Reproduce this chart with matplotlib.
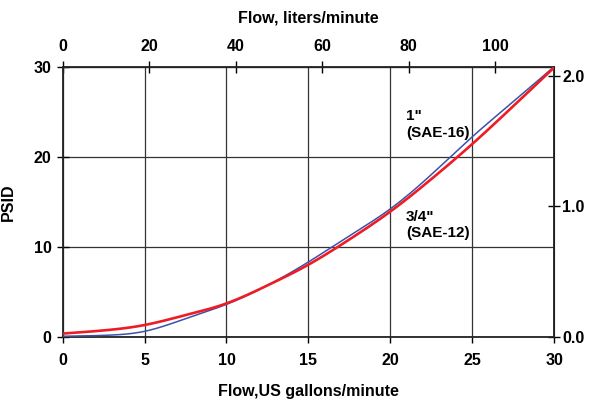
import numpy as np
import matplotlib
matplotlib.use("Agg")
import matplotlib.pyplot as plt

plt.rcParams['font.family'] = ['Liberation Sans', 'DejaVu Sans']
plt.rcParams['font.weight'] = 'bold'

# flow in US gpm, pressure drop in psi
gpm = [0, 2.5, 5, 7.5, 10, 12.5, 15, 17.5, 20, 22.5, 25, 27.5, 30]
psi_1in = [0.05, 0.15, 0.6, 2.0, 3.6, 5.7, 8.3, 11.2, 14.2, 18.0, 22.2, 26.1, 30.0]   # 1" (SAE-16)
psi_34in = [0.35, 0.7, 1.3, 2.4, 3.7, 5.7, 8.0, 10.8, 13.9, 17.5, 21.4, 25.6, 29.9]  # 3/4" (SAE-12)

x_ticks = [0, 5, 10, 15, 20, 25, 30]
y_ticks = [0, 10, 20, 30]
lpm_ticks = [0, 20, 40, 60, 80, 100]
bar_ticks = [0.0, 1.0, 2.0]

GAL_TO_L = 3.785411784
PSI_PER_BAR = 14.5038


def spline(x, y, xs):
    # natural cubic spline so the curves come out smooth
    x = np.asarray(x, float)
    y = np.asarray(y, float)
    n = len(x)
    h = np.diff(x)
    A = np.zeros((n, n))
    r = np.zeros(n)
    A[0, 0] = A[-1, -1] = 1
    for i in range(1, n - 1):
        A[i, i - 1] = h[i - 1]
        A[i, i] = 2 * (h[i - 1] + h[i])
        A[i, i + 1] = h[i]
        r[i] = 6 * ((y[i + 1] - y[i]) / h[i] - (y[i] - y[i - 1]) / h[i - 1])
    m = np.linalg.solve(A, r)
    idx = np.clip(np.searchsorted(x, xs) - 1, 0, n - 2)
    t = xs - x[idx]
    hi = h[idx]
    a = y[idx]
    b = (y[idx + 1] - y[idx]) / hi - hi * (2 * m[idx] + m[idx + 1]) / 6
    return a + b * t + m[idx] / 2 * t ** 2 + (m[idx + 1] - m[idx]) / (6 * hi) * t ** 3


fig = plt.figure(figsize=(5.92, 4.01), dpi=100)
ax = fig.add_axes([0.1059, 0.1603, 0.8300, 0.6734])

xs = np.linspace(0, 30, 300)
ax.plot(xs, spline(gpm, psi_1in, xs), color='#3a52a8', lw=1.1, zorder=3)
ax.plot(xs, spline(gpm, psi_34in, xs), color='#ee1c25', lw=1.9, zorder=4)

ax.set_xlim(0, 30)
ax.set_ylim(0, 30)
ax.set_xticks(x_ticks)
ax.set_yticks(y_ticks)
ax.grid(True, color='#333333', lw=0.9)
for s in ax.spines.values():
    s.set_color('#222222')
    s.set_linewidth(1.3)
ax.tick_params(axis='x', direction='out', length=4, width=1, pad=8, labelsize=11.5)
ax.tick_params(axis='y', direction='inout', length=8, width=1, pad=4, labelsize=11.5)
ax.set_xlabel('Flow,US gallons/minute', fontsize=11.5, fontweight='bold', labelpad=11)
ax.set_ylabel('PSID', fontsize=11.5, fontweight='bold')
ax.yaxis.set_label_coords(-0.095, 0.5)

top = ax.secondary_xaxis('top', functions=(lambda g: g * GAL_TO_L, lambda l: l / GAL_TO_L))
top.set_xticks(lpm_ticks)
top.tick_params(direction='inout', length=8, width=1, pad=5, labelsize=11.5)
top.set_xlabel('Flow, liters/minute', fontsize=11.5, fontweight='bold', labelpad=12)

right = ax.secondary_yaxis('right', functions=(lambda p: p / PSI_PER_BAR, lambda b: b * PSI_PER_BAR))
right.set_yticks(bar_ticks)
right.set_yticklabels(['%.1f' % b for b in bar_ticks])
right.tick_params(direction='inout', length=8, width=1, pad=2, labelsize=11.5)

ax.text(20.95, 23.6, '1"\n(SAE-16)', fontsize=11, fontweight='bold', va='center', ha='left', linespacing=1.25)
ax.text(20.95, 12.4, '3/4"\n(SAE-12)', fontsize=11, fontweight='bold', va='center', ha='left', linespacing=1.25)

fig.savefig('out.png', dpi=100)
